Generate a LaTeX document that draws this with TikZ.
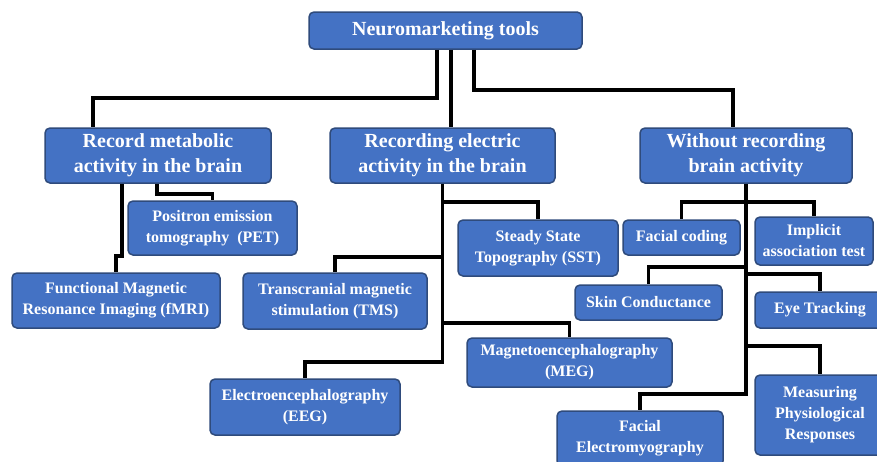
\documentclass[tikz,border=0pt]{standalone}
\usepackage{fontspec}
\setmainfont{Liberation Serif}
\definecolor{boxblue}{HTML}{4472C4}
\definecolor{boxedge}{HTML}{2F4B7C}
\tikzset{
  box/.style={draw=boxedge, line width=1.5pt, fill=boxblue, rounded corners=5pt,
    text=white, align=center, inner sep=0pt},
  big/.style={box, font=\fontsize{20}{25}\selectfont\bfseries},
  leaf/.style={box, font=\fontsize{16}{21}\selectfont\bfseries},
  link/.style={line width=3.6pt, draw=black},
}
\begin{document}
\begin{tikzpicture}[x=1pt,y=-1pt]
\useasboundingbox[fill=white] (0,0) rectangle (877,461);
% main nodes
\node[big, minimum width=273pt, minimum height=37pt] (top) at (445.5,30.5) {Neuromarketing tools};
\node[big, minimum width=226pt, minimum height=55pt] (rec) at (158,155.5) {Record metabolic\\activity in the brain};
\node[big, minimum width=225pt, minimum height=55pt] (elec) at (442.5,155.5) {Recording electric\\activity in the brain};
\node[big, minimum width=212pt, minimum height=55pt] (without) at (746,155.5) {Without recording\\brain activity};
% leaves
\node[leaf, minimum width=169pt, minimum height=54pt] (pet) at (212.5,228) {Positron emission\\tomography~~(PET)};
\node[leaf, minimum width=208pt, minimum height=55pt] (fmri) at (116,300.5) {Functional Magnetic\\Resonance Imaging (fMRI)};
\node[leaf, minimum width=184pt, minimum height=56pt] (tms) at (335,301) {Transcranial magnetic\\stimulation (TMS)};
\node[leaf, minimum width=190pt, minimum height=56pt] (eeg) at (305,407) {Electroencephalography\\(EEG)};
\node[leaf, minimum width=160pt, minimum height=56pt] (sst) at (538,248) {Steady State\\Topography (SST)};
\node[leaf, minimum width=205pt, minimum height=49pt] (meg) at (569.5,362.5) {Magnetoencephalography\\(MEG)};
\node[leaf, minimum width=117pt, minimum height=35pt] (fcod) at (681.5,237.5) {Facial coding};
\node[leaf, minimum width=118pt, minimum height=48pt] (iat) at (814,241) {Implicit\\association test};
\node[leaf, minimum width=147pt, minimum height=35pt] (skin) at (648.5,302.5) {Skin Conductance};
\node[leaf, minimum width=130pt, minimum height=36pt] (eye) at (820,310) {Eye Tracking};
\node[leaf, minimum width=130pt, minimum height=80pt] (meas) at (820,415) {Measuring\\Physiological\\Responses};
\node[leaf, minimum width=166pt, minimum height=55pt] (femg) at (640,438.5) {Facial\\Electromyography};
% connectors from top
\draw[link] ([xshift=-8.5pt]top.south) -- ++(0,48) -| ([xshift=-65pt]rec.north);
\draw[link] ([xshift=5.5pt]top.south) -- ([xshift=8.5pt]elec.north);
\draw[link] ([xshift=28.5pt]top.south) -- ++(0,40) -| ([xshift=-13pt]without.north);
% record metabolic
\draw[link] ([xshift=-36pt]rec.south) -- ++(0,72) -| (fmri.north);
\draw[link] ([xshift=-1pt]rec.south) -- ++(0,10) -| (pet.north);
% recording electric
\draw[link] (elec.south) -- ++(0,178) -| (eeg.north);
\draw[link] (elec.south) ++(0,18) -| (sst.north);
\draw[link] (elec.south) ++(0,73) -| (tms.north);
\draw[link] (elec.south) ++(0,139) -| (meg.north);
% without recording
\draw[link] (without.south) -- ++(0,210) -| (femg.north);
\draw[link] (without.south) ++(0,18) -| (fcod.north);
\draw[link] (without.south) ++(0,18) -| (iat.north);
\draw[link] (without.south) ++(0,83) -| (skin.north);
\draw[link] (without.south) ++(0,90) -| (eye.north);
\draw[link] (without.south) ++(0,162) -| (meas.north);
\end{tikzpicture}
\end{document}
